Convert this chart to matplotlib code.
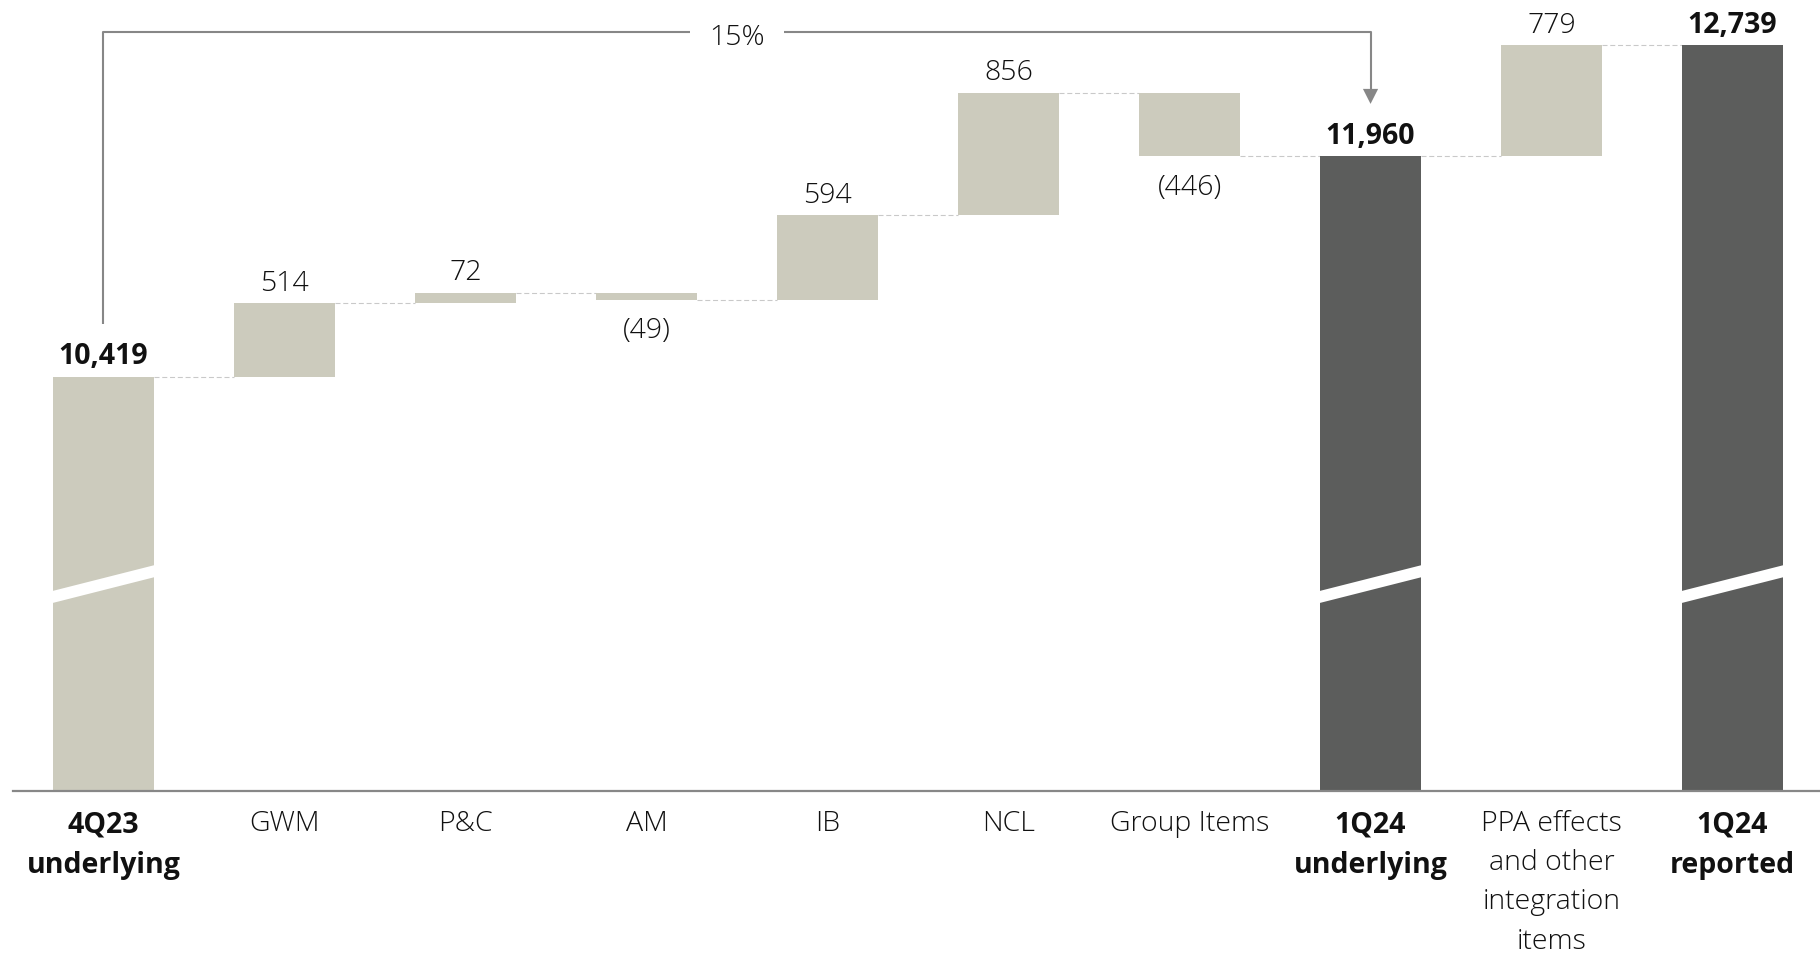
import matplotlib
matplotlib.use("Agg")
import matplotlib.pyplot as plt
from matplotlib.patches import Polygon
from matplotlib.transforms import blended_transform_factory, offset_copy

# Underlying operating income bridge, USD m
categories = ["4Q23\nunderlying", "GWM", "P&C", "AM", "IB", "NCL", "Group Items",
              "1Q24\nunderlying", "PPA effects\nand other\nintegration\nitems", "1Q24\nreported"]
start_value = 10419
segment_changes = [514, 72, -49, 594, 856, -446]
subtotal_value = 11960
reported_change = 779
reported_value = 12739
total_flags = [True, False, False, False, False, False, False, True, False, True]
bracket_label = "15%"

LIGHT = "#cccbbd"
DARK = "#5c5d5c"
LINE_GREY = "#878787"
DASH_GREY = "#c9c9c9"
TEXT = "#111111"

plt.rcParams["font.family"] = ["Open Sans", "DejaVu Sans"]
FS = 20.5

# Build bar bottoms / tops for the waterfall
bottoms, tops, colors = [], [], []
AXIS_FLOOR = 7522
bottoms.append(AXIS_FLOOR); tops.append(start_value); colors.append(LIGHT)
running = start_value
for d in segment_changes:
    lo, hi = sorted([running, running + d])
    bottoms.append(lo); tops.append(hi); colors.append(LIGHT)
    running += d
bottoms.append(AXIS_FLOOR); tops.append(subtotal_value); colors.append(DARK)
bottoms.append(subtotal_value); tops.append(subtotal_value + reported_change); colors.append(LIGHT)
bottoms.append(AXIS_FLOOR); tops.append(reported_value); colors.append(DARK)

values = [start_value] + segment_changes + [subtotal_value, reported_change, reported_value]
levels = [start_value]
acc = start_value
for d in segment_changes:
    acc += d
    levels.append(acc)
levels += [subtotal_value, subtotal_value + reported_change, reported_value]

fig = plt.figure(figsize=(18.2, 9.54), dpi=100)
ax = fig.add_axes([0.0069, 0.1701, 0.9931, 0.8299])
x = list(range(len(categories)))
W = 0.558
ax.bar(x, [t - b for t, b in zip(tops, bottoms)], bottom=bottoms, width=W,
       color=colors, edgecolor="none", zorder=2)
ax.set_xlim(-0.502, 9.483)
ax.set_ylim(AXIS_FLOOR, 13062)

for s in ["top", "right", "left"]:
    ax.spines[s].set_visible(False)
ax.spines["bottom"].set_color(LINE_GREY)
ax.spines["bottom"].set_linewidth(1.6)
ax.set_yticks([])
ax.set_xticks([])

# Dashed connectors between consecutive bars
for i in range(len(x) - 1):
    ax.plot([x[i] + W / 2, x[i + 1] - W / 2], [levels[i], levels[i]],
            color=DASH_GREY, lw=0.8, linestyle=(0, (4.5, 2.5)), zorder=1)

# Axis-break marks on the full-height bars
bt = blended_transform_factory(ax.transData, ax.transAxes)
yc, slope, thick = 0.261, 0.0335, 0.0152
for i, is_total in enumerate(total_flags):
    if not is_total:
        continue
    xl, xr = x[i] - W / 2 - 0.01, x[i] + W / 2 + 0.01
    poly = Polygon([(xl, yc - slope / 2 - thick / 2), (xr, yc + slope / 2 - thick / 2),
                    (xr, yc + slope / 2 + thick / 2), (xl, yc - slope / 2 + thick / 2)],
                   closed=True, facecolor="white", edgecolor="none",
                   transform=bt, zorder=3, clip_on=False)
    ax.add_patch(poly)

# Value labels
def fmt(v, total):
    if total:
        return f"{v:,}"
    return f"({abs(v)})" if v < 0 else f"{v}"

above = offset_copy(ax.transData, fig=fig, x=0, y=13.5 * 0.72, units="points")
below = offset_copy(ax.transData, fig=fig, x=0, y=-37.5 * 0.72, units="points")
for i, v in enumerate(values):
    tot = total_flags[i]
    if v < 0 and not tot:
        ax.text(x[i], bottoms[i], fmt(v, tot), ha="center", va="baseline",
                fontsize=FS, color=TEXT, fontweight="light", transform=below)
    else:
        ax.text(x[i], tops[i], fmt(v, tot), ha="center", va="baseline",
                fontsize=FS, color=TEXT, fontweight="bold" if tot else "light",
                transform=above)

# Category labels
cat_tr = offset_copy(bt, fig=fig, x=0, y=-18.5 * 0.72, units="points")
for i, c in enumerate(categories):
    ax.text(x[i], 0, c, ha="center", va="top", fontsize=FS, color=TEXT,
            fontweight="bold" if total_flags[i] else "light",
            linespacing=1.53, transform=cat_tr)

# Growth bracket from 4Q23 to 1Q24 underlying
y_top = 12830
lift = 368
mid = (x[0] + x[7]) / 2
gap = 0.262
ax.plot([x[0], x[0], mid - gap], [start_value + lift, y_top, y_top],
        color=LINE_GREY, lw=1.5, solid_capstyle="butt", zorder=2)
tip = subtotal_value + lift
head_h, head_w = 105, 0.042
ax.plot([mid + gap, x[7], x[7]], [y_top, y_top, tip + head_h],
        color=LINE_GREY, lw=1.5, solid_capstyle="butt", zorder=2)
ax.add_patch(Polygon([(x[7] - head_w, tip + head_h), (x[7] + head_w, tip + head_h), (x[7], tip)],
                     closed=True, facecolor=LINE_GREY, edgecolor="none", zorder=2))
pct_tr = offset_copy(ax.transData, fig=fig, x=0, y=-4.5 * 0.72, units="points")
ax.text(mid, y_top, bracket_label, ha="center", va="center", fontsize=FS,
        color=TEXT, fontweight="light", transform=pct_tr)

fig.savefig("out.png", dpi=100, facecolor="white")
